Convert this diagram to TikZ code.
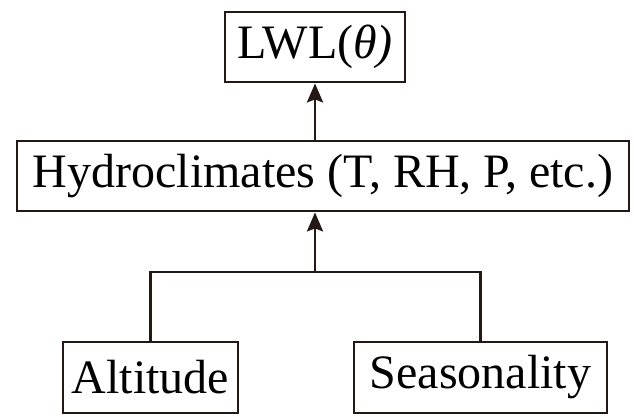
\documentclass[tikz,border=0pt]{standalone}
\usepackage{fontspec}
\setmainfont{Liberation Serif}
\usetikzlibrary{arrows.meta}
\definecolor{ink}{RGB}{35,24,21}
\begin{document}
\begin{tikzpicture}[x=1pt,y=-1pt,
  box/.style={draw=ink,line width=2.8pt,inner sep=0pt,align=center,
    font=\fontsize{48}{50}\selectfont,text=black},
  conn/.style={draw=ink,line width=2.8pt},
  arr/.style={conn,-{Stealth[length=19pt,width=16pt,inset=3pt]}}]
\useasboundingbox (0,0) rectangle (634,417);
\node[box,minimum width=180pt,minimum height=70pt] (top) at (315,47) {LWL({\itshape θ)}};
\node[box,minimum width=612pt,minimum height=70pt] (mid) at (323,176) {Hydroclimates (T, RH, P, etc.)};
\node[box,minimum width=175pt,minimum height=71pt] (alt) at (150.5,377.5) {Altitude};
\node[box,minimum width=253pt,minimum height=71pt] (sea) at (480.5,377.5) {Seasonality};
\coordinate (j) at (315,272);
\draw[conn] (alt.north) |- (j) -| (sea.north);
\draw[arr] (j) -- (j |- mid.south);
\draw[arr] (top.south |- mid.north) -- (top.south);
\end{tikzpicture}
\end{document}
